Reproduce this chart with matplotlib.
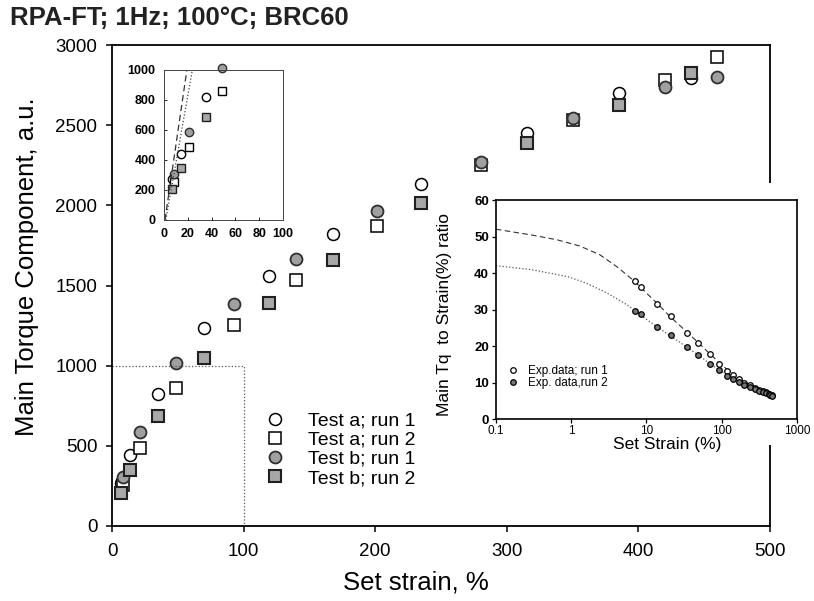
import matplotlib.pyplot as plt
from matplotlib.patches import Rectangle

# main plot: set strain (%) vs main torque component (a.u.)
a1_x = [7, 14, 35, 70, 119, 168, 235, 315, 385, 440]
a1_y = [270, 441, 823, 1233, 1562, 1822, 2133, 2450, 2703, 2793]
a2_x = [8.4, 21, 49, 93, 140, 201, 280, 350, 420, 460]
a2_y = [256, 485, 863, 1254, 1535, 1873, 2250, 2535, 2782, 2928]
b1_x = [8.4, 21, 49, 93, 140, 201, 280, 350, 420, 460]
b1_y = [308, 588, 1015, 1385, 1666, 1965, 2270, 2543, 2736, 2803]
b2_x = [7, 14, 35, 70, 119, 168, 235, 315, 385, 440]
b2_y = [208, 349, 686, 1046, 1389, 1659, 2017, 2387, 2627, 2828]

# dotted frame showing the zoomed region
box_x = [0, 100, 100]
box_y = [1000, 1000, 0]

# low strain limits shown in the small inset
lim_x1 = [0.8, 19.2]
lim_x2 = [1.5, 23.8]
lim_y = [0, 1000]

# ratio inset
ratio_x = [7, 8.4, 14, 21, 35, 49, 70, 93, 119, 140, 168, 200, 235, 280, 315, 350, 385, 420, 440, 460]
run1_y = [37.9, 36.1, 31.6, 28.1, 23.7, 20.8, 17.8, 15.1, 13.2, 12.1, 11.0, 9.9, 9.2, 8.5, 8.0, 7.6, 7.3, 6.9, 6.7, 6.5]
run2_y = [29.7, 28.8, 25.2, 23.1, 19.6, 17.6, 15.0, 13.5, 11.7, 10.9, 10.1, 9.4, 8.8, 8.2, 7.8, 7.4, 7.1, 6.8, 6.6, 6.4]
fit1_x = [0.1, 0.3, 0.65, 1.3, 2.4, 4, 6.7, 10, 14, 20, 35, 50, 70, 100, 150, 250, 460]
fit1_y = [52.0, 50.4, 49.1, 47.4, 45.0, 41.8, 38.0, 34.5, 31.6, 28.3, 23.7, 20.7, 17.8, 14.8, 11.8, 9.0, 6.5]
fit2_x = [0.1, 0.3, 0.9, 1.6, 3, 5.5, 7, 10, 14, 20, 35, 50, 70, 100, 150, 250, 460]
fit2_y = [42.0, 40.9, 39.0, 37.2, 34.5, 31.3, 29.7, 27.3, 25.2, 23.0, 19.6, 17.4, 15.1, 13.0, 11.0, 8.7, 6.4]

plt.rcParams['font.family'] = ['Liberation Sans', 'DejaVu Sans']

fig = plt.figure(figsize=(8.14, 6.01), dpi=100)
ax = fig.add_axes([0.1376, 0.1248, 0.8084, 0.8003])

styles = [
    dict(marker='o', ms=8.6, mfc='white', mec='black', mew=1.1),
    dict(marker='s', ms=8.0, mfc='white', mec='black', mew=1.1),
    dict(marker='o', ms=8.6, mfc='#a0a0a0', mec='#303030', mew=1.3),
    dict(marker='s', ms=8.0, mfc='#a8a8a8', mec='#202020', mew=1.5),
]
series = [(a1_x, a1_y, 'Test a; run 1'), (a2_x, a2_y, 'Test a; run 2'),
          (b1_x, b1_y, 'Test b; run 1'), (b2_x, b2_y, 'Test b; run 2')]

for (xs, ys, name), st in zip(series, styles):
    ax.plot(xs, ys, ls='none', label=name, **st)

ax.plot(box_x, box_y, ':', color='#555555', lw=0.9)

ax.set_xlim(0, 500)
ax.set_ylim(0, 3000)
ax.set_xticks(range(0, 501, 100))
ax.set_yticks(range(0, 3001, 500))
ax.tick_params(direction='out', length=4.5, width=1.1, labelsize=13.5)
ax.tick_params(axis='x', pad=8)
ax.tick_params(axis='y', pad=6)
for s in ax.spines.values():
    s.set_linewidth(1.3)

ax.set_xlabel('Set strain, %', fontsize=18.5)
ax.xaxis.set_label_coords(0.462, -0.093)
ax.set_ylabel('Main Torque Component, a.u.', fontsize=18.5)
ax.yaxis.set_label_coords(-0.111, 0.54)

ax.legend(loc='upper left', bbox_to_anchor=(0.326, 0.3145), bbox_transform=fig.transFigure,
          frameon=False, fontsize=14, handlelength=1.0, handletextpad=1.2,
          labelspacing=0.08, borderpad=0, borderaxespad=0)

fig.text(0.0123, 0.9576, 'RPA-FT; 1Hz; 100°C; BRC60', fontsize=18.5, fontweight='bold',
         color='#222222')

# small inset: zoom of low strain region
ax1 = fig.add_axes([0.2015, 0.634, 0.1462, 0.2496])
for (xs, ys, name), st in zip(series, styles):
    px = [x for x, y in zip(xs, ys) if x <= 100 and y <= 1020]
    py = [y for x, y in zip(xs, ys) if x <= 100 and y <= 1020]
    small = dict(st)
    small['ms'] = st['ms'] * 0.7
    small['mew'] = 1.0
    ax1.plot(px, py, ls='none', clip_on=False, **small)
ax1.plot(lim_x1, lim_y, color='#333333', lw=0.9, dashes=(5, 3))
ax1.plot(lim_x2, lim_y, ':', color='#444444', lw=0.9)
ax1.set_xlim(0, 100)
ax1.set_ylim(0, 1000)
ax1.set_xticks(range(0, 101, 20))
ax1.set_yticks(range(0, 1001, 200))
ax1.tick_params(direction='in', length=2, width=0.6, labelsize=9, pad=6)
for lab in ax1.get_xticklabels() + ax1.get_yticklabels():
    lab.set_fontweight('bold')
for s in ax1.spines.values():
    s.set_linewidth(0.7)
    s.set_color('#444444')

# white area behind the ratio inset
fig.add_artist(Rectangle((0.531, 0.2596), 0.469, 0.436, transform=fig.transFigure,
                         facecolor='white', edgecolor='none', zorder=2))

# ratio inset
ax2 = fig.add_axes([0.6093, 0.3028, 0.3698, 0.3644], zorder=3)
ax2.plot(fit1_x, fit1_y, color='#333333', lw=0.8, dashes=(5, 3))
ax2.plot(fit2_x, fit2_y, ':', color='#555555', lw=0.9)
ax2.plot(ratio_x, run1_y, 'o', ms=4, mfc='white', mec='black', mew=0.9, label='Exp.data; run 1')
ax2.plot(ratio_x, run2_y, 'o', ms=4, mfc='#777777', mec='black', mew=0.9, label='Exp. data,run 2')
ax2.set_xscale('log')
ax2.set_xlim(0.1, 1000)
ax2.set_ylim(0, 60)
ax2.set_xticks([0.1, 1, 10, 100, 1000])
ax2.set_xticklabels(['0.1', '1', '10', '100', '1000'])
ax2.minorticks_off()
ax2.set_yticks(range(0, 61, 10))
ax2.tick_params(direction='out', length=3, width=0.9, pad=2)
ax2.tick_params(axis='x', labelsize=8.5, pad=1.5)
ax2.tick_params(axis='y', labelsize=9.5)
for lab in ax2.get_yticklabels():
    lab.set_fontweight('bold')
for s in ax2.spines.values():
    s.set_linewidth(1.2)
ax2.set_xlabel('Set Strain (%)', fontsize=12.5)
ax2.xaxis.set_label_coords(0.570, -0.082)
ax2.set_ylabel('Main Tq  to Strain(%) ratio', fontsize=12.5)
ax2.yaxis.set_label_coords(-0.146, 0.475)
ax2.legend(loc='upper left', bbox_to_anchor=(0.624, 0.3927), bbox_transform=fig.transFigure,
           frameon=False, fontsize=8.5, handlelength=0.8, handletextpad=0.9,
           labelspacing=0.0, borderpad=0, borderaxespad=0)

fig.savefig('out.png', dpi=100)
